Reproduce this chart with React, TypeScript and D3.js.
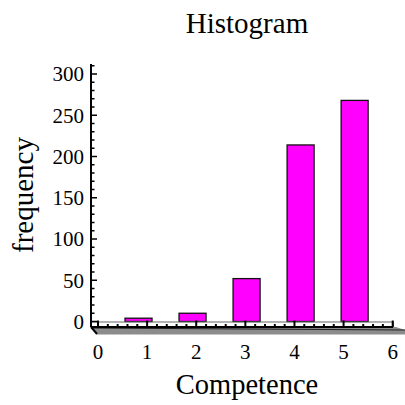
import React from "react";
import * as d3 from "d3";

const binStarts = [0.55, 1.65, 2.75, 3.85, 4.95];
const binWidth = 0.55;
const frequencies = [4, 10, 52, 214, 268];
const xTicks = [0, 1, 2, 3, 4, 5, 6];
const yTicks = [0, 50, 100, 150, 200, 250, 300];

export default function App() {
  const W = 405, H = 405;
  const x = d3.scaleLinear().domain([0, 6]).range([98, 392.7]);
  const y = d3.scaleLinear().domain([0, 300]).range([321.5, 74]);
  const axisX = 91;
  const yTop = y(312);
  const baseY = 327;
  const font = "'Liberation Serif', 'Times New Roman', serif";
  const minorY = d3.range(0, 311, 10).filter((v) => v % 50 !== 0);
  const minorX = d3.range(0, 6.01, 0.2).filter((v) => Math.abs(v - Math.round(v)) > 0.01);
  return (
    <svg width={W} height={H} style={{ position: "absolute", left: 0, top: 0, background: "#fff" }}>
      <text x={247} y={33} fontFamily={font} fontSize={29} textAnchor="middle">Histogram</text>
      <text transform={`translate(33,195) rotate(-90)`} fontFamily={font} fontSize={29} textAnchor="middle">frequency</text>
      <text x={247} y={394} fontFamily={font} fontSize={28.5} textAnchor="middle">Competence</text>

      {/* bars */}
      {frequencies.map((f, i) => (
        <rect key={i} x={x(binStarts[i])} y={y(f)} width={x(binStarts[i] + binWidth) - x(binStarts[i])}
          height={y(0) - y(f)} fill="#ff00ff" stroke="#111" strokeWidth={1.3} />
      ))}

      {/* base strip */}
      <line x1={axisX} x2={393.3} y1={y(0) + 0.5} y2={y(0) + 0.5} stroke="#666" strokeWidth={1} />
      <line x1={393.3} x2={393.3} y1={y(0)} y2={baseY} stroke="#444" strokeWidth={1} />
      <polygon points={`${axisX},${baseY} 396,${baseY} 405,${baseY + 3} 405,${baseY + 7.5} 97,${baseY + 7.5}`} fill="#8c8c8c" />
      <line x1={axisX} x2={405} y1={baseY + 1} y2={baseY + 3} stroke="#222" strokeWidth={1.2} />
      <line x1={axisX} x2={97} y1={baseY} y2={baseY + 7} stroke="#000" strokeWidth={2} />
      <line x1={axisX} x2={393} y1={baseY} y2={baseY} stroke="#000" strokeWidth={2} />
      {xTicks.map((t) => (
        <g key={t}>
          <line x1={x(t)} x2={x(t)} y1={baseY} y2={y(0) - 1} stroke="#000" strokeWidth={2} />
          <text x={x(t)} y={359} fontFamily={font} fontSize={21} textAnchor="middle">{t}</text>
        </g>
      ))}
      {minorX.map((t, i) => (
        <line key={i} x1={x(t)} x2={x(t)} y1={baseY} y2={baseY - 3} stroke="#000" strokeWidth={2} />
      ))}

      {/* y axis */}
      <line x1={axisX} x2={axisX} y1={yTop} y2={baseY} stroke="#000" strokeWidth={2} />
      {yTicks.map((t) => (
        <g key={t}>
          <line x1={axisX} x2={axisX + 6} y1={y(t)} y2={y(t)} stroke="#000" strokeWidth={1.5} />
          <text x={84} y={y(t)} dy="0.35em" fontFamily={font} fontSize={21} textAnchor="end">{t}</text>
        </g>
      ))}
      {minorY.map((t) => (
        <line key={t} x1={axisX} x2={axisX + 3.5} y1={y(t)} y2={y(t)} stroke="#000" strokeWidth={1.5} />
      ))}
    </svg>
  );
}
